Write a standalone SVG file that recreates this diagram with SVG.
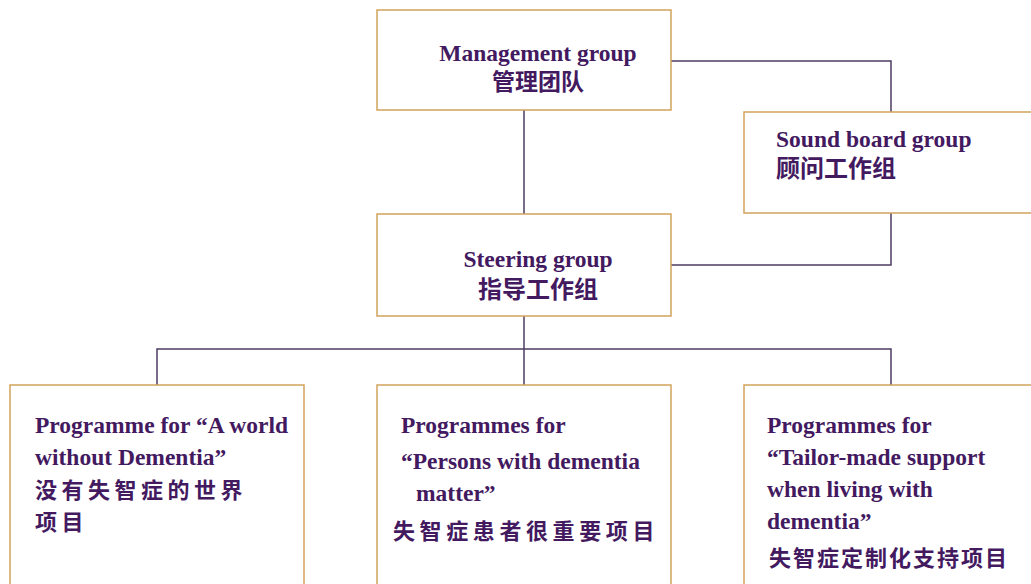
<svg xmlns="http://www.w3.org/2000/svg" width="1031" height="584" viewBox="0 0 1031 584">
<style>
.box{fill:#fff;stroke:#d2a25c;stroke-width:1.5}
.en{font-family:"Liberation Serif","Times New Roman",serif;font-weight:bold;font-size:23.5px;fill:#43195f}
.zh{font-family:"Noto Sans CJK SC","Noto Sans",sans-serif;font-weight:bold;font-size:22px;fill:#43195f}
.ln{fill:none;stroke:#4e3d63;stroke-width:1.5}
</style>
<rect width="1031" height="584" fill="#fff"/>
<g id="connectors">
<path class="ln" d="M524,110 V214"/>
<path class="ln" d="M671,61 H891 V112"/>
<path class="ln" d="M891,213 V265 H671"/>
<path class="ln" d="M524,316 V385"/>
<path class="ln" d="M157,385 V349 H891 V385"/>
</g>
<g id="management">
<rect class="box" x="377" y="10" width="294" height="100"/>
<text class="en" x="538" y="61" text-anchor="middle">Management group</text>
<text class="zh" x="538" y="90" text-anchor="middle" style="font-size:23px">管理团队</text>
</g>
<g id="soundboard">
<rect class="box" x="744" y="112" width="300" height="101"/>
<text class="en" x="776" y="147">Sound board group</text>
<text class="zh" x="776" y="177" style="font-size:24px">顾问工作组</text>
</g>
<g id="steering">
<rect class="box" x="377" y="214" width="294" height="102"/>
<text class="en" x="538" y="267" text-anchor="middle">Steering group</text>
<text class="zh" x="538" y="298" text-anchor="middle" style="font-size:24px">指导工作组</text>
</g>
<g id="prog1">
<rect class="box" x="10" y="385" width="294" height="210"/>
<text class="en" x="35" y="433">Programme for “A world</text>
<text class="en" x="35" y="465">without Dementia”</text>
<text class="zh" x="35" y="498" style="letter-spacing:4.5px">没有失智症的世界</text>
<text class="zh" x="35" y="530" style="letter-spacing:4.5px">项目</text>
</g>
<g id="prog2">
<rect class="box" x="377" y="385" width="294" height="210"/>
<text class="en" x="401" y="433">Programmes for</text>
<text class="en" x="401" y="469">“Persons with dementia</text>
<text class="en" x="416" y="501">matter”</text>
<text class="zh" x="393" y="539" style="letter-spacing:4.6px">失智症患者很重要项目</text>
</g>
<g id="prog3">
<rect class="box" x="744" y="385" width="300" height="210"/>
<text class="en" x="767" y="433">Programmes for</text>
<text class="en" x="767" y="465">“Tailor-made support</text>
<text class="en" x="767" y="497">when living with</text>
<text class="en" x="767" y="529">dementia”</text>
<text class="zh" x="769" y="566" style="letter-spacing:2px">失智症定制化支持项目</text>
</g>
</svg>
